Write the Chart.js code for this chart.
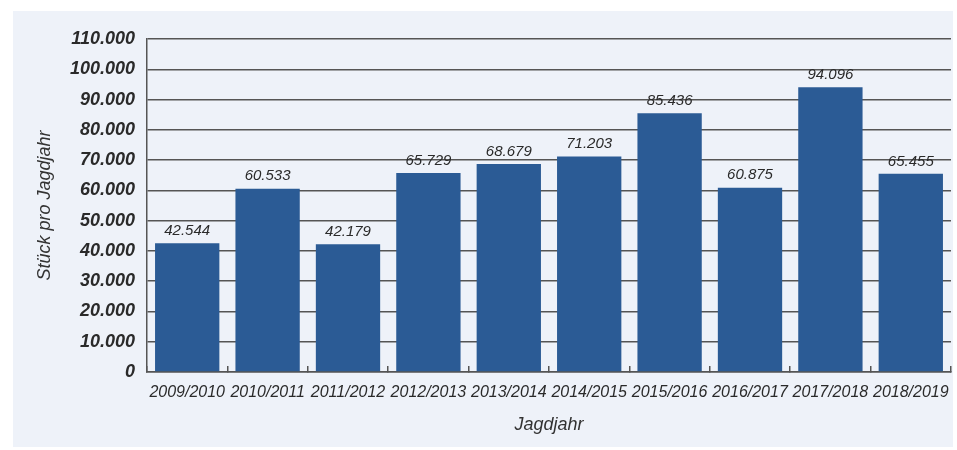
<!DOCTYPE html>
<html>
<head>
<meta charset="utf-8">
<script src="https://cdn.jsdelivr.net/npm/chart.js@4/dist/chart.umd.min.js"></script>
<style>
  body { margin: 0; background: #fff; }
  #panel { position: absolute; left: 13px; top: 11px; width: 940px; height: 436px; background: #eef2f9; }
  #myChart { position: absolute; left: 0; top: 0; }
</style>
</head>
<body>
<div id="panel"></div>
<canvas id="myChart" width="957" height="450"></canvas>
<script>
const jahre = ['2009/2010', '2010/2011', '2011/2012', '2012/2013', '2013/2014',
               '2014/2015', '2015/2016', '2016/2017', '2017/2018', '2018/2019'];
const strecke = [42544, 60533, 42179, 65729, 68679, 71203, 85436, 60875, 94096, 65455];
const yMax = 110000;
const yStep = 10000;

// 12345 -> "12.345"
function punkt(n) {
    return String(Math.round(n)).replace(/\B(?=(\d{3})+(?!\d))/g, '.');
}

const werteLabels = {
    id: 'werteLabels',
    afterDatasetsDraw(chart) {
        const ctx = chart.ctx;
        const meta = chart.getDatasetMeta(0);
        ctx.save();
        ctx.font = 'italic 15px "Liberation Sans", Arial, sans-serif';
        ctx.fillStyle = '#2a2a2a';
        ctx.textAlign = 'center';
        ctx.textBaseline = 'bottom';
        meta.data.forEach((bar, i) => {
            ctx.fillText(punkt(strecke[i]), bar.x, bar.y - 5);
        });
        ctx.restore();
    }
};

const ctx = document.getElementById('myChart').getContext('2d');
const myChart = new Chart(ctx, {
    type: 'bar',
    data: {
        labels: jahre,
        datasets: [{
            data: strecke,
            backgroundColor: '#2b5b95',
            borderWidth: 0,
            barPercentage: 0.8,
            categoryPercentage: 1.0
        }]
    },
    options: {
        responsive: false,
        animation: false,
        layout: { padding: { left: 0, right: 6, top: 39, bottom: 0 } },
        plugins: {
            legend: { display: false },
            tooltip: { enabled: false }
        },
        scales: {
            x: {
                afterFit: (scale) => {
                    scale.height = 78;
                    scale.paddingLeft = 0;
                    scale.paddingRight = 0;
                },
                grid: {
                    drawOnChartArea: false,
                    drawTicks: true,
                    tickLength: -6,
                    color: '#555',
                    lineWidth: 1.5
                },
                border: { display: true, color: '#555', width: 1.5 },
                ticks: {
                    padding: 17,
                    maxRotation: 0,
                    color: '#2a2a2a',
                    font: { family: '"Liberation Sans", Arial, sans-serif', size: 16, style: 'italic' }
                },
                title: {
                    display: true,
                    text: 'Jagdjahr',
                    color: '#333',
                    padding: { top: 0, bottom: 14 },
                    font: { family: '"Liberation Sans", Arial, sans-serif', size: 18, style: 'italic' }
                }
            },
            y: {
                min: 0,
                max: yMax,
                afterFit: (scale) => { scale.width = 147; },
                grid: { drawTicks: false, color: '#555', lineWidth: 1.5 },
                border: { display: true, color: '#555', width: 1.5 },
                ticks: {
                    stepSize: yStep,
                    padding: 12,
                    color: '#2a2a2a',
                    callback: (v) => punkt(v),
                    font: { family: '"Liberation Sans", Arial, sans-serif', size: 18, style: 'italic', weight: 'bold' }
                },
                title: {
                    display: true,
                    text: 'Stück pro Jagdjahr',
                    color: '#333',
                    padding: { top: 34, bottom: 0 },
                    font: { family: '"Liberation Sans", Arial, sans-serif', size: 18, style: 'italic' }
                }
            }
        }
    },
    plugins: [werteLabels]
});
</script>
</body>
</html>
